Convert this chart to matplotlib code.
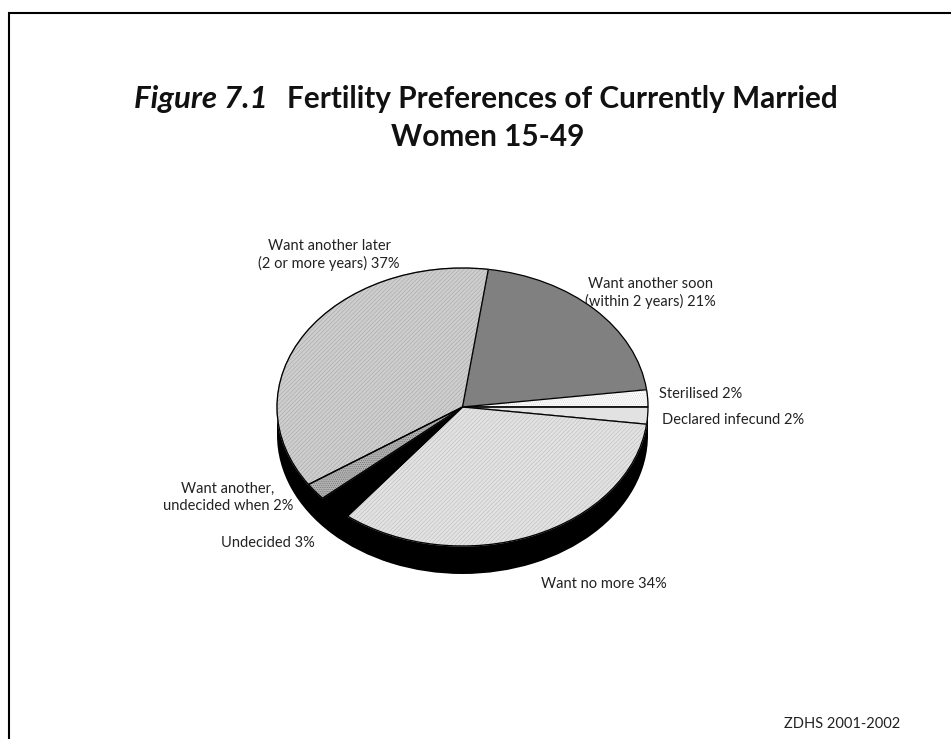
import matplotlib
matplotlib.use("Agg")
import matplotlib.pyplot as plt
from matplotlib.patches import Rectangle, Wedge

W, H = 951, 739

# Slices, clockwise from the top boundary
categories = ["Want another soon", "Sterilised", "Declared infecund", "Want no more",
              "Undecided", "Want another undecided", "Want another later"]
percents = [21, 2, 2, 34, 3, 2, 37]
slice_labels = ["Want another soon\n(within 2 years) 21%", "Sterilised 2%", "Declared infecund 2%",
                "Want no more 34%", "Undecided 3%", "Want another,\nundecided when 2%",
                "Want another later\n(2 or more years) 37%"]

face = ["#808080", "#fbfbfb", "#e2e2e2", "#e2e2e2", "#000000", "#b0b0b0", "#cecece"]
hatch_col = ["#808080", "#c0c0c0", "#e2e2e2", "#b0b0b0", "#000000", "#606060", "#9a9a9a"]
hatches = [None, "........", None, "////////", None, "........", "////////"]

# first line of each label in picture pixels (x, y, ha)
anchors = [(650, 284, "center"), (659, 394, "left"), (662, 420, "left"),
           (604, 584, "center"), (268, 543, "center"), (228, 489, "center"),
           (329, 246, "center")]
line_step = 17.5

plt.rcParams["font.family"] = ["Lato", "DejaVu Sans"]
plt.rcParams["hatch.linewidth"] = 0.3

fig = plt.figure(figsize=(W / 100, H / 100), dpi=100)

# page layer in pixel coordinates
bg = fig.add_axes([0, 0, 1, 1])
bg.set_xlim(0, W)
bg.set_ylim(H, 0)
bg.axis("off")
bg.plot([9, 9, W], [H, 13, 13], color="black", lw=1.5, solid_joinstyle="miter")

bg.text(134, 108, "Figure 7.1", fontsize=22.5, fontweight="bold", style="italic", va="baseline", color="#111111")
bg.text(287, 108, "Fertility Preferences of Currently Married", fontsize=21.4, fontweight="bold",
        va="baseline", color="#111111")
bg.text(487.5, 146, "Women 15-49", fontsize=21.4, fontweight="bold", ha="center", va="baseline", color="#111111")

for lab, (x, y, ha) in zip(slice_labels, anchors):
    for i, line in enumerate(lab.split("\n")):
        bg.text(x, y + i * line_step, line, fontsize=10.5, ha=ha, va="center", color="#222222")
bg.text(842, 724, "ZDHS 2001-2002", fontsize=10.5, ha="center", va="center", color="#222222")

# pie squashed into an ellipse, centre (462, 407), radii 185.5 x 139, depth 28
cx, cy, rx, ry, depth = 462.5, 407, 185.5, 139, 28
pad = 1.03
x0, x1 = cx - rx * pad, cx + rx * pad
y0, y1 = cy - ry * pad, cy + ry * pad + depth
ax = fig.add_axes([x0 / W, 1 - y1 / H, (x1 - x0) / W, (y1 - y0) / H], zorder=2)
d = depth / ry

# black side of the disc
ax.pie([1], center=(0, -d), colors=["black"], wedgeprops={"linewidth": 0})
ax.add_patch(Rectangle((-1, -d), 2, d, color="black", lw=0))
wedges, _ = ax.pie(percents, startangle=82, counterclock=False, colors=face,
                   wedgeprops={"edgecolor": "black", "linewidth": 0.9})
for w, h, hc in zip(wedges, hatches, hatch_col):
    if h:
        # hatch takes the edge colour, so draw a copy for the black outline
        w.set_hatch(h)
        ax.add_patch(Wedge(w.center, w.r, w.theta1, w.theta2, fill=False, edgecolor="black",
                           linewidth=0.9, zorder=w.get_zorder() + 1))
        w.set_edgecolor(hc)
ax.set_aspect("auto")
ax.set_xlim(-pad, pad)
ax.set_ylim(-pad - d, pad)
ax.axis("off")

fig.savefig("out.png", dpi=100)
